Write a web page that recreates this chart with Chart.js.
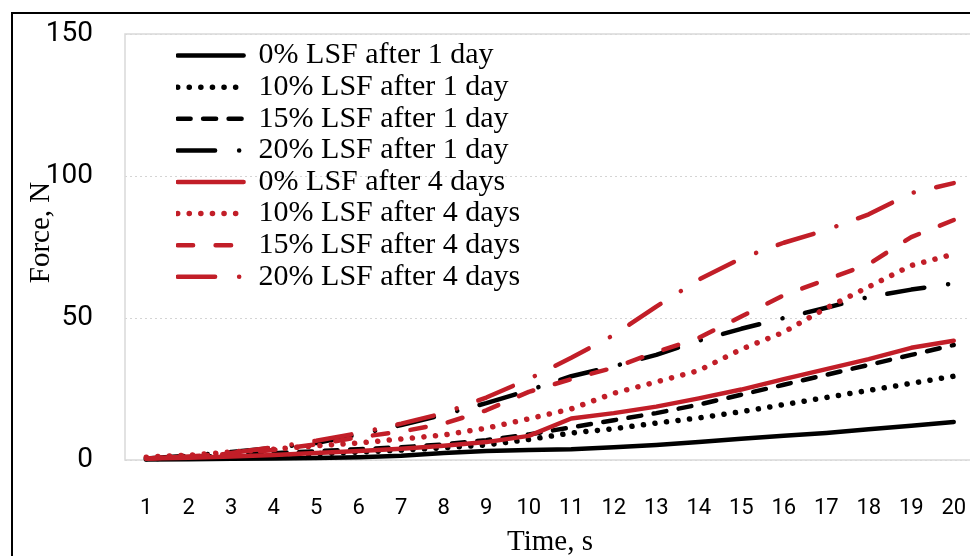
<!DOCTYPE html>
<html>
<head>
<meta charset="utf-8">
<script src="https://cdn.jsdelivr.net/npm/chart.js@4.4.1/dist/chart.umd.min.js"></script>
<style>
  html, body { margin: 0; padding: 0; width: 970px; height: 556px; overflow: hidden; background: #fff; }
  #frame { position: absolute; left: 11px; top: 12px; width: 1020px; height: 620px; border: 2px solid #000; }
  #c { position: absolute; left: 0; top: 0; }
</style>
</head>
<body>
<div id="frame"></div>
<canvas id="c" width="990" height="560"></canvas>
<script>
// time steps
var time = [1, 2, 3, 4, 5, 6, 7, 8, 9, 10, 11, 12, 13, 14, 15, 16, 17, 18, 19, 20];
var yTicks = [0, 50, 100, 150];

// force, N  (after 1 day)
var lsf0_1d  = [0.2, 0.3, 0.4, 0.5, 0.7, 1.0, 1.5, 2.5, 3.2, 3.5, 3.8, 4.5, 5.3, 6.3, 7.5, 8.5, 9.5, 10.8, 12.1, 13.4];
var lsf10_1d = [0.4, 0.8, 1.2, 1.6, 2.2, 2.8, 3.5, 4.3, 5.3, 7.2, 9.5, 11, 13, 14.8, 17, 19.5, 22, 24.5, 27, 29.5];
var lsf15_1d = [0.5, 1, 1.7, 2.4, 3.1, 3.8, 4.5, 5.5, 7, 9, 11.5, 14, 16.5, 19.5, 23, 26.5, 30, 33.5, 37, 40.5];
var lsf20_1d = [0.5, 1.5, 2.8, 4.3, 6, 9, 12.3, 16, 20, 24.5, 29.5, 33, 37, 42, 46.2, 50, 53.6, 57.4, 60, 62.2];
// force, N  (after 4 days)
var lsf0_4d  = [0.5, 0.8, 1.2, 1.8, 2.5, 3.2, 4, 5, 6.3, 8.5, 14.6, 16.5, 18.8, 21.7, 24.8, 28.5, 32, 35.5, 39.5, 42];
var lsf10_4d = [1, 1.7, 2.8, 3.8, 5, 6, 7.4, 8.8, 11.2, 14.5, 18, 23.5, 27.5, 31.5, 39, 45, 53.5, 61, 68.5, 72.5];
var lsf15_4d = [0.5, 1.2, 2.2, 3.5, 5.5, 8, 10, 12.8, 17.5, 24, 28.5, 32.5, 38, 43, 50.5, 58, 63.5, 69, 78.5, 84.5];
var lsf20_4d = [0.5, 1.2, 2.5, 4.5, 6.8, 9.5, 12.8, 16.5, 22, 28.5, 36, 44, 54, 63.5, 71, 76.5, 81, 86.5, 94, 97.5];

var BLACK = '#000000';
var RED = 'rgb(194,30,40)';
var SERIF = "'Liberation Serif', 'Times New Roman', serif";
var SANS = "Roboto, 'Open Sans', sans-serif";

var SOLID = [];
var DOTS = [0.1, 11.5];
var DASH = [13, 12.5];
var DASH_RED = [15.5, 22.5];
var DASHDOT = [37.5, 24, 0.1, 23];

function line(label, data, color, dash, order) {
  return {
    label: label,
    data: data,
    borderColor: color,
    backgroundColor: color,
    borderWidth: dash === DOTS ? 5.5 : 4.5,
    borderDash: dash,
    borderCapStyle: 'round',
    borderJoinStyle: 'round',
    pointRadius: 0,
    tension: 0,
    fill: false,
    clip: 5,
    order: order
  };
}

// light grey box round the plot area
var plotBox = {
  id: 'plotBox',
  beforeDatasetsDraw: function (chart) {
    var a = chart.chartArea, ctx = chart.ctx;
    ctx.save();
    ctx.strokeStyle = '#d9d9d9';
    ctx.lineWidth = 1.5;
    ctx.strokeRect(a.left, a.top, a.right - a.left, a.bottom - a.top);
    ctx.restore();
  }
};

// put the legend inside the plot, top left
var legendShift = {
  id: 'legendShift',
  afterLayout: function (chart) {
    var a = chart.chartArea;
    chart.legend.left = a.left + 51;
    chart.legend.top = a.top + 5;
  }
};

new Chart(document.getElementById('c'), {
  type: 'line',
  data: {
    labels: time,
    datasets: [
      line('0% LSF after 1 day', lsf0_1d, BLACK, SOLID, 1),
      line('10% LSF after 1 day', lsf10_1d, BLACK, DOTS, 1),
      line('15% LSF after 1 day', lsf15_1d, BLACK, DASH, 1),
      line('20% LSF after 1 day', lsf20_1d, BLACK, DASHDOT, 1),
      line('0% LSF after 4 days', lsf0_4d, RED, SOLID, 0),
      line('10% LSF after 4 days', lsf10_4d, RED, DOTS, 0),
      line('15% LSF after 4 days', lsf15_4d, RED, DASH_RED, 0),
      line('20% LSF after 4 days', lsf20_4d, RED, DASHDOT, 0)
    ]
  },
  options: {
    responsive: false,
    animation: false,
    layout: { padding: { left: 0, top: 34, right: 15, bottom: 0 } },
    plugins: {
      tooltip: { enabled: false },
      legend: {
        position: 'chartArea',
        fullSize: false,
        align: 'start',
        labels: {
          usePointStyle: true,
          pointStyle: 'line',
          pointStyleWidth: 66,
          padding: 1.6,
          color: '#000',
          font: { family: SERIF, size: 30 },
          generateLabels: function (chart) {
            var items = Chart.defaults.plugins.legend.labels.generateLabels(chart);
            items.forEach(function (it) {
              var ds = chart.data.datasets[it.datasetIndex];
              it.lineDash = ds.borderDash;
              it.lineCap = 'round';
              it.lineWidth = ds.borderWidth;
              it.strokeStyle = ds.borderColor;
              it.pointStyle = 'line';
              it.rotation = 180;
            });
            return items.sort(function (a, b) { return a.datasetIndex - b.datasetIndex; });
          }
        }
      }
    },
    scales: {
      x: {
        type: 'category',
        offset: true,
        grid: { display: false, drawTicks: true, tickLength: 35 },
        border: { display: false },
        ticks: { color: '#000', padding: 0, maxRotation: 0, autoSkip: false, font: { family: SANS, size: 22 } },
        title: { display: true, text: 'Time, s', color: '#000', padding: { top: 0, bottom: 0 }, font: { family: SERIF, size: 29 } },
        afterFit: function (s) { s.height = 100; }
      },
      y: {
        min: 0,
        max: 150,
        afterBuildTicks: function (s) { s.ticks = yTicks.map(function (v) { return { value: v }; }); },
        grid: { color: '#d4d4d4', lineWidth: 1, drawTicks: true, tickLength: 32, tickColor: 'rgba(0,0,0,0)' },
        border: { display: false, dash: [2, 3] },
        ticks: { color: '#000', padding: 0, crossAlign: 'near', font: { family: SANS, size: 28 } },
        title: { display: true, text: '    Force, N', color: '#000', padding: { top: 24, bottom: 0 }, font: { family: SERIF, size: 29 } },
        afterFit: function (s) { s.width = 125; }
      }
    }
  },
  plugins: [plotBox, legendShift]
});
</script>
</body>
</html>
